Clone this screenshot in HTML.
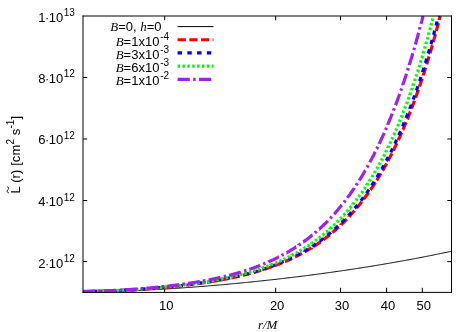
<!DOCTYPE html>
<html><head><meta charset="utf-8"><style>
html,body{margin:0;padding:0;background:#fff}
svg{display:block;will-change:transform}
text{font-family:"Liberation Sans",sans-serif;font-size:13px;fill:#000}
.it{font-family:"Liberation Serif",serif;font-style:italic}
</style></head><body>
<svg width="474" height="332" viewBox="0 0 474 332">
<rect width="474" height="332" fill="#fff"/>
<g stroke="#000" stroke-width="1" fill="none"><path d="M164.67 292.40V287.80M164.67 16.00V20.20"/><path d="M275.63 292.40V287.80M275.63 16.00V20.20"/><path d="M340.54 292.40V287.80M340.54 16.00V20.20"/><path d="M386.59 292.40V287.80M386.59 16.00V20.20"/><path d="M422.31 292.40V287.80M422.31 16.00V20.20"/><path d="M83.00 261.60H87.20M451.50 261.60H447.30"/><path d="M83.00 200.50H87.20M451.50 200.50H447.30"/><path d="M83.00 139.00H87.20M451.50 139.00H447.30"/><path d="M83.00 77.50H87.20M451.50 77.50H447.30"/></g>
<clipPath id="c"><rect x="83" y="15.5" width="368.5" height="277.3"/></clipPath>
<g clip-path="url(#c)">
<path d="M82.90 291.90 L83.82 291.90 L84.75 291.90 L85.67 291.90 L86.60 291.89 L87.52 291.89 L88.44 291.88 L89.37 291.88 L90.29 291.87 L91.21 291.86 L92.14 291.85 L93.06 291.84 L93.99 291.83 L94.91 291.82 L95.83 291.81 L96.76 291.79 L97.68 291.78 L98.60 291.76 L99.53 291.75 L100.45 291.73 L101.38 291.71 L102.30 291.69 L103.22 291.68 L104.15 291.66 L105.07 291.63 L106.00 291.61 L106.92 291.59 L107.84 291.57 L108.77 291.55 L109.69 291.52 L110.61 291.50 L111.54 291.47 L112.46 291.44 L113.39 291.42 L114.31 291.39 L115.23 291.36 L116.16 291.33 L117.08 291.30 L118.00 291.27 L118.93 291.24 L119.85 291.21 L120.78 291.18 L121.70 291.15 L122.62 291.11 L123.55 291.08 L124.47 291.05 L125.40 291.01 L126.32 290.98 L127.24 290.94 L128.17 290.90 L129.09 290.87 L130.01 290.83 L130.94 290.79 L131.86 290.75 L132.79 290.71 L133.71 290.67 L134.63 290.63 L135.56 290.59 L136.48 290.55 L137.40 290.51 L138.33 290.46 L139.25 290.42 L140.18 290.38 L141.10 290.33 L142.02 290.29 L142.95 290.24 L143.87 290.20 L144.80 290.15 L145.72 290.10 L146.64 290.06 L147.57 290.01 L148.49 289.96 L149.41 289.91 L150.34 289.86 L151.26 289.81 L152.19 289.76 L153.11 289.71 L154.03 289.66 L154.96 289.61 L155.88 289.56 L156.80 289.50 L157.73 289.45 L158.65 289.40 L159.58 289.34 L160.50 289.29 L161.42 289.24 L162.35 289.18 L163.27 289.13 L164.20 289.07 L165.12 289.01 L166.04 288.96 L166.97 288.90 L167.89 288.84 L168.81 288.78 L169.74 288.72 L170.66 288.66 L171.59 288.60 L172.51 288.54 L173.43 288.48 L174.36 288.42 L175.28 288.36 L176.20 288.30 L177.13 288.24 L178.05 288.18 L178.98 288.11 L179.90 288.05 L180.82 287.99 L181.75 287.92 L182.67 287.86 L183.60 287.79 L184.52 287.73 L185.44 287.66 L186.37 287.59 L187.29 287.53 L188.21 287.46 L189.14 287.39 L190.06 287.33 L190.99 287.26 L191.91 287.19 L192.83 287.12 L193.76 287.05 L194.68 286.98 L195.60 286.91 L196.53 286.84 L197.45 286.77 L198.38 286.70 L199.30 286.62 L200.22 286.55 L201.15 286.48 L202.07 286.41 L203.00 286.33 L203.92 286.26 L204.84 286.18 L205.77 286.11 L206.69 286.03 L207.61 285.96 L208.54 285.88 L209.46 285.81 L210.39 285.73 L211.31 285.65 L212.23 285.58 L213.16 285.50 L214.08 285.42 L215.00 285.34 L215.93 285.26 L216.85 285.18 L217.78 285.10 L218.70 285.02 L219.62 284.94 L220.55 284.86 L221.47 284.78 L222.40 284.70 L223.32 284.62 L224.24 284.53 L225.17 284.45 L226.09 284.37 L227.01 284.28 L227.94 284.20 L228.86 284.11 L229.79 284.03 L230.71 283.94 L231.63 283.86 L232.56 283.77 L233.48 283.69 L234.40 283.60 L235.33 283.51 L236.25 283.42 L237.18 283.34 L238.10 283.25 L239.02 283.16 L239.95 283.07 L240.87 282.98 L241.80 282.89 L242.72 282.80 L243.64 282.71 L244.57 282.62 L245.49 282.53 L246.41 282.44 L247.34 282.34 L248.26 282.25 L249.19 282.16 L250.11 282.06 L251.03 281.97 L251.96 281.88 L252.88 281.78 L253.80 281.69 L254.73 281.59 L255.65 281.50 L256.58 281.40 L257.50 281.30 L258.42 281.21 L259.35 281.11 L260.27 281.01 L261.20 280.91 L262.12 280.81 L263.04 280.72 L263.97 280.62 L264.89 280.52 L265.81 280.42 L266.74 280.32 L267.66 280.22 L268.59 280.11 L269.51 280.01 L270.43 279.91 L271.36 279.81 L272.28 279.70 L273.20 279.60 L274.13 279.50 L275.05 279.39 L275.98 279.29 L276.90 279.18 L277.82 279.08 L278.75 278.97 L279.67 278.87 L280.60 278.76 L281.52 278.65 L282.44 278.55 L283.37 278.44 L284.29 278.33 L285.21 278.22 L286.14 278.11 L287.06 278.00 L287.99 277.89 L288.91 277.78 L289.83 277.67 L290.76 277.56 L291.68 277.45 L292.60 277.34 L293.53 277.23 L294.45 277.12 L295.38 277.00 L296.30 276.89 L297.22 276.78 L298.15 276.66 L299.07 276.55 L300.00 276.43 L300.92 276.32 L301.84 276.20 L302.77 276.08 L303.69 275.97 L304.61 275.85 L305.54 275.73 L306.46 275.61 L307.39 275.50 L308.31 275.38 L309.23 275.26 L310.16 275.14 L311.08 275.02 L312.00 274.90 L312.93 274.78 L313.85 274.66 L314.78 274.53 L315.70 274.41 L316.62 274.29 L317.55 274.17 L318.47 274.04 L319.40 273.92 L320.32 273.79 L321.24 273.67 L322.17 273.54 L323.09 273.42 L324.01 273.29 L324.94 273.17 L325.86 273.04 L326.79 272.91 L327.71 272.78 L328.63 272.65 L329.56 272.53 L330.48 272.40 L331.40 272.27 L332.33 272.14 L333.25 272.01 L334.18 271.88 L335.10 271.74 L336.02 271.61 L336.95 271.48 L337.87 271.35 L338.80 271.21 L339.72 271.08 L340.64 270.95 L341.57 270.81 L342.49 270.68 L343.41 270.54 L344.34 270.41 L345.26 270.27 L346.19 270.13 L347.11 270.00 L348.03 269.86 L348.96 269.72 L349.88 269.58 L350.80 269.44 L351.73 269.30 L352.65 269.16 L353.58 269.02 L354.50 268.88 L355.42 268.74 L356.35 268.60 L357.27 268.45 L358.20 268.31 L359.12 268.17 L360.04 268.02 L360.97 267.88 L361.89 267.74 L362.81 267.59 L363.74 267.44 L364.66 267.30 L365.59 267.15 L366.51 267.00 L367.43 266.86 L368.36 266.71 L369.28 266.56 L370.20 266.41 L371.13 266.26 L372.05 266.11 L372.98 265.96 L373.90 265.81 L374.82 265.66 L375.75 265.51 L376.67 265.35 L377.60 265.20 L378.52 265.05 L379.44 264.89 L380.37 264.74 L381.29 264.58 L382.21 264.43 L383.14 264.27 L384.06 264.12 L384.99 263.96 L385.91 263.80 L386.83 263.64 L387.76 263.49 L388.68 263.33 L389.60 263.17 L390.53 263.01 L391.45 262.85 L392.38 262.69 L393.30 262.52 L394.22 262.36 L395.15 262.20 L396.07 262.04 L397.00 261.87 L397.92 261.71 L398.84 261.54 L399.77 261.38 L400.69 261.21 L401.61 261.05 L402.54 260.88 L403.46 260.71 L404.39 260.55 L405.31 260.38 L406.23 260.21 L407.16 260.04 L408.08 259.87 L409.00 259.70 L409.93 259.53 L410.85 259.36 L411.78 259.18 L412.70 259.01 L413.62 258.84 L414.55 258.66 L415.47 258.49 L416.40 258.31 L417.32 258.14 L418.24 257.96 L419.17 257.79 L420.09 257.61 L421.01 257.43 L421.94 257.25 L422.86 257.08 L423.79 256.90 L424.71 256.72 L425.63 256.54 L426.56 256.36 L427.48 256.17 L428.40 255.99 L429.33 255.81 L430.25 255.63 L431.18 255.44 L432.10 255.26 L433.02 255.07 L433.95 254.89 L434.87 254.70 L435.80 254.51 L436.72 254.33 L437.64 254.14 L438.57 253.95 L439.49 253.76 L440.41 253.57 L441.34 253.38 L442.26 253.19 L443.19 253.00 L444.11 252.81 L445.03 252.62 L445.96 252.42 L446.88 252.23 L447.80 252.04 L448.73 251.84 L449.65 251.65 L450.58 251.45 L451.50 251.25" stroke="#000" stroke-width="1" fill="none"/>
<path d="M82.9 291.6L83.0 291.6L83.8 291.6L84.5 291.5L85.2 291.5L86.0 291.5L86.7 291.5L87.4 291.5L88.2 291.5L88.9 291.5L89.7 291.5L90.4 291.5L91.0 291.5M94.4 291.4L94.5 291.4L95.2 291.4L95.9 291.4L96.7 291.3L97.4 291.3L98.1 291.3L98.9 291.3L99.6 291.3L100.4 291.3L101.1 291.2L101.8 291.2L102.6 291.2L102.7 291.2M106.1 291.1L106.1 291.1L106.9 291.0L107.6 291.0L108.3 291.0L109.1 291.0L109.8 290.9L110.6 290.9L111.3 290.9L112.0 290.9L112.8 290.8L113.5 290.8L114.2 290.8L114.4 290.8M117.8 290.6L117.9 290.6L118.7 290.6L119.4 290.5L120.1 290.5L120.9 290.5L121.6 290.4L122.4 290.4L123.1 290.4L123.8 290.3L124.6 290.3L125.3 290.2L126.0 290.2L126.1 290.2M129.4 290.0L129.5 290.0L130.2 290.0L131.0 289.9L131.7 289.9L132.4 289.8L133.2 289.8L133.9 289.7L134.6 289.7L135.4 289.7L136.1 289.6L136.9 289.6L137.5 289.5M140.8 289.3L140.9 289.3L141.6 289.2L142.4 289.2L143.1 289.1L143.9 289.1L144.6 289.0L145.3 289.0L146.1 288.9L146.8 288.9L147.5 288.8L148.3 288.8L148.9 288.7M152.2 288.5L152.2 288.5L153.0 288.4L153.7 288.3L154.4 288.3L155.2 288.2L155.9 288.2L156.6 288.1L157.4 288.0L158.1 288.0L158.9 287.9L159.6 287.8L160.3 287.8M163.6 287.5L163.7 287.5L164.4 287.4L165.1 287.3L165.9 287.3L166.6 287.2L167.3 287.1L168.1 287.1L168.8 287.0L169.5 286.9L170.3 286.8L171.0 286.8L171.6 286.7M174.9 286.4L175.0 286.4L175.7 286.3L176.4 286.2L177.2 286.1L177.9 286.0L178.6 286.0L179.4 285.9L180.1 285.8L180.9 285.7L181.6 285.6L182.3 285.5L183.0 285.5M186.3 285.1L186.4 285.1L187.1 285.0L187.9 284.9L188.6 284.8L189.3 284.7L190.1 284.6L190.8 284.5L191.6 284.4L192.3 284.3L193.0 284.2L193.8 284.1L194.3 284.1M197.6 283.6L197.7 283.6L198.4 283.5L199.2 283.4L199.9 283.3L200.6 283.2L201.4 283.1L202.1 283.0L202.9 282.9L203.6 282.8L204.3 282.6L205.1 282.5L205.6 282.5M208.9 282.0L208.9 282.0L209.6 281.8L210.4 281.7L211.1 281.6L211.8 281.5L212.6 281.4L213.3 281.2L214.0 281.1L214.8 281.0L215.5 280.9L216.3 280.7L216.9 280.6M220.2 280.0L220.3 280.0L221.0 279.9L221.8 279.7L222.5 279.6L223.3 279.5L224.0 279.3L224.7 279.2L225.5 279.0L226.2 278.9L226.9 278.8L227.7 278.6L228.3 278.5M231.5 277.8L231.6 277.8L232.4 277.7L233.1 277.5L233.8 277.3L234.6 277.2L235.3 277.0L236.0 276.9L236.8 276.7L237.5 276.5L238.3 276.4L239.0 276.2L239.5 276.1M242.8 275.3L242.8 275.3L243.5 275.1L244.3 274.9L245.0 274.8L245.8 274.6L246.5 274.4L247.2 274.2L248.0 274.0L248.7 273.8L249.4 273.6L250.2 273.4L250.6 273.3M253.7 272.5L253.7 272.5L254.5 272.2L255.2 272.0L256.0 271.8L256.7 271.6L257.4 271.4L258.2 271.2L258.9 271.0L259.6 270.7L260.4 270.5L261.1 270.3L261.2 270.3M264.3 269.3L264.3 269.3L265.0 269.0L265.8 268.8L266.5 268.6L267.3 268.3L268.0 268.1L268.7 267.8L269.5 267.6L270.2 267.3L270.9 267.0L271.7 266.8L271.7 266.8M274.8 265.7L274.9 265.6L275.6 265.3L276.4 265.1L277.1 264.8L277.8 264.5L278.6 264.2L279.3 263.9L280.0 263.6L280.8 263.3L281.5 263.0L282.2 262.8M285.1 261.5L285.2 261.5L285.9 261.2L286.7 260.8L287.4 260.5L288.2 260.2L288.9 259.9L289.6 259.5L290.4 259.2L291.1 258.8L291.8 258.5L292.1 258.4M295.0 257.0L295.0 257.0L295.8 256.6L296.5 256.2L297.3 255.8L298.0 255.5L298.7 255.1L299.5 254.7L300.2 254.3L300.9 253.9L301.7 253.5L301.9 253.4M304.7 251.9L304.7 251.8L305.5 251.4L306.2 251.0L307.0 250.5L307.7 250.1L308.4 249.7L309.2 249.2L309.9 248.8L310.6 248.3L311.4 247.9L311.4 247.8M314.1 246.1L314.2 246.1L314.9 245.6L315.7 245.1L316.4 244.6L317.2 244.1L317.9 243.6L318.6 243.1L319.4 242.6L320.1 242.1L320.7 241.7M323.4 239.7L323.4 239.7L324.2 239.1L324.9 238.6L325.6 238.0L326.4 237.4L327.1 236.9L327.9 236.3L328.6 235.7L329.3 235.1L329.8 234.7M332.4 232.6L332.4 232.6L333.1 231.9L333.9 231.3L334.6 230.7L335.4 230.0L336.1 229.4L336.8 228.7L337.6 228.0L338.3 227.4L338.5 227.1M341.0 224.9L341.0 224.8L341.7 224.1L342.5 223.4L343.2 222.7L344.0 222.0L344.7 221.2L345.4 220.5L346.2 219.7L346.8 219.1M349.1 216.7L349.1 216.6L349.9 215.8L350.6 215.0L351.3 214.2L352.1 213.4L352.8 212.6L353.5 211.7L354.3 210.9L354.5 210.6M356.7 208.1L356.7 208.0L357.5 207.1L358.2 206.2L359.0 205.3L359.7 204.4L360.4 203.5L361.2 202.5L361.8 201.8M363.8 199.1L363.9 199.0L364.6 198.0L365.3 197.1L366.1 196.1L366.8 195.0L367.6 194.0L368.3 193.0L368.6 192.6M370.4 189.9L370.5 189.8L371.2 188.7L372.0 187.6L372.7 186.5L373.5 185.4L374.2 184.3L374.9 183.2L374.9 183.1M376.7 180.4L376.8 180.3L377.5 179.1L378.2 177.9L379.0 176.7L379.7 175.5L380.5 174.2L380.9 173.4M382.6 170.6L382.7 170.5L383.4 169.2L384.1 167.9L384.9 166.6L385.6 165.2L386.4 163.9L386.6 163.5M388.1 160.6L388.2 160.5L388.9 159.1L389.7 157.7L390.4 156.3L391.2 154.8L391.9 153.4M393.4 150.5L393.4 150.5L394.1 149.0L394.8 147.4L395.6 145.9L396.3 144.4L396.9 143.2M398.3 140.2L398.4 139.9L399.1 138.3L399.9 136.7L400.6 135.0L401.4 133.4L401.6 132.8M402.9 129.8L403.0 129.7L403.7 128.0L404.4 126.3L405.2 124.5L405.9 122.7L406.1 122.3M407.3 119.2L407.4 119.1L408.1 117.3L408.9 115.5L409.6 113.6L410.3 111.7L410.4 111.6M411.6 108.4L411.7 108.2L412.4 106.3L413.2 104.3L413.9 102.3L414.5 100.7M415.6 97.5L415.7 97.3L416.5 95.2L417.2 93.1L417.9 91.0L418.4 89.7M419.5 86.5L419.5 86.4L420.3 84.2L421.0 82.0L421.8 79.8L422.1 78.7M423.2 75.5L423.2 75.3L424.0 73.0L424.7 70.7L425.4 68.3L425.7 67.6M426.7 64.4L426.8 64.0L427.5 61.6L428.3 59.1L429.0 56.7L429.1 56.5M430.0 53.2L430.1 52.9L430.9 50.4L431.6 47.8L432.3 45.3M433.2 42.1L433.3 41.8L434.0 39.1L434.8 36.5L435.4 34.1M436.3 30.9L436.4 30.6L437.1 27.8L437.9 25.0L438.4 23.1M439.2 19.9L439.2 19.8L439.9 16.9L440.2 16.0" stroke="#ff0000" stroke-width="3.2" fill="none"/>
<path d="M82.9 291.5L83.0 291.5L83.8 291.5L84.5 291.5L85.2 291.5L86.0 291.5L86.7 291.5L87.1 291.5M92.4 291.4L92.5 291.4L93.2 291.4L94.0 291.4L94.7 291.4L95.4 291.4L96.2 291.3L96.8 291.3M102.2 291.2L102.2 291.2L102.9 291.2L103.7 291.1L104.4 291.1L105.1 291.1L105.9 291.1L106.6 291.0M112.0 290.8L112.0 290.8L112.8 290.8L113.5 290.8L114.2 290.7L115.0 290.7L115.7 290.7L116.4 290.6M121.7 290.4L121.7 290.4L122.5 290.3L123.2 290.3L124.0 290.3L124.7 290.2L125.4 290.2L126.1 290.2M131.3 289.9L131.3 289.9L132.1 289.8L132.8 289.8L133.5 289.7L134.3 289.7L135.0 289.6L135.6 289.6M140.8 289.2L140.9 289.2L141.6 289.2L142.4 289.1L143.1 289.1L143.9 289.0L144.6 289.0L145.1 288.9M150.3 288.5L150.4 288.5L151.1 288.5L151.9 288.4L152.6 288.4L153.3 288.3L154.1 288.2L154.6 288.2M159.8 287.8L159.8 287.7L160.6 287.7L161.3 287.6L162.1 287.5L162.8 287.5L163.5 287.4L164.1 287.4M169.2 286.9L169.3 286.8L170.0 286.8L170.8 286.7L171.5 286.6L172.3 286.5L173.0 286.5L173.5 286.4M178.7 285.9L178.8 285.8L179.5 285.8L180.2 285.7L181.0 285.6L181.7 285.5L182.5 285.4L183.0 285.4M188.1 284.7L188.2 284.7L189.0 284.6L189.7 284.5L190.4 284.4L191.2 284.3L191.9 284.2L192.4 284.2M197.6 283.5L197.7 283.5L198.4 283.4L199.2 283.3L199.9 283.1L200.6 283.0L201.4 282.9L201.8 282.9M207.0 282.1L207.0 282.1L207.8 282.0L208.5 281.8L209.2 281.7L210.0 281.6L210.7 281.5L211.2 281.4M216.4 280.5L216.5 280.5L217.2 280.4L218.0 280.2L218.7 280.1L219.5 280.0L220.2 279.8L220.7 279.7M225.8 278.7L226.0 278.7L226.7 278.6L227.4 278.4L228.2 278.3L228.9 278.1L229.7 278.0L230.1 277.9M235.2 276.8L235.3 276.7L236.0 276.6L236.8 276.4L237.5 276.2L238.3 276.1L239.0 275.9L239.5 275.8M244.6 274.5L244.6 274.5L245.4 274.3L246.1 274.1L246.9 273.9L247.6 273.7L248.3 273.6L248.7 273.4M253.6 272.1L253.6 272.1L254.4 271.9L255.1 271.7L255.8 271.5L256.6 271.2L257.3 271.0L257.6 270.9M262.4 269.4L262.5 269.4L263.2 269.2L263.9 268.9L264.7 268.7L265.4 268.4L266.2 268.2L266.4 268.1M271.2 266.4L271.2 266.4L271.9 266.2L272.7 265.9L273.4 265.6L274.1 265.3L274.9 265.1L275.1 265.0M279.9 263.1L279.9 263.1L280.7 262.8L281.4 262.5L282.1 262.1L282.9 261.8L283.6 261.5L283.7 261.5M288.3 259.4L288.3 259.4L289.0 259.1L289.8 258.7L290.5 258.4L291.2 258.0L292.0 257.7L292.0 257.7M296.4 255.5L296.5 255.4L297.3 255.0L298.0 254.6L298.7 254.2L299.5 253.8L300.0 253.5M304.4 251.1L304.5 251.0L305.2 250.6L306.0 250.2L306.7 249.7L307.5 249.3L308.0 248.9M312.3 246.3L312.4 246.2L313.1 245.7L313.8 245.2L314.6 244.7L315.3 244.2L315.8 243.9M319.9 241.0L320.0 241.0L320.7 240.4L321.5 239.9L322.2 239.3L322.9 238.8L323.4 238.4M327.5 235.2L327.6 235.1L328.3 234.5L329.1 233.9L329.8 233.3L330.6 232.7L330.9 232.4M334.9 229.0L334.9 229.0L335.6 228.3L336.3 227.6L337.1 226.9L337.8 226.3L338.1 226.0M341.8 222.4L341.9 222.4L342.6 221.6L343.3 220.9L344.1 220.1L344.8 219.4L344.9 219.3M348.5 215.5L348.6 215.3L349.4 214.5L350.1 213.7L350.8 212.9L351.4 212.2M354.8 208.3L354.9 208.2L355.6 207.3L356.4 206.4L357.1 205.5L357.5 204.9M360.8 200.8L360.8 200.8L361.5 199.9L362.3 198.9L363.0 197.9L363.4 197.4M366.4 193.2L366.4 193.2L367.2 192.1L367.9 191.1L368.7 190.0L368.9 189.7M371.8 185.4L371.9 185.2L372.6 184.1L373.3 183.0L374.1 181.8L374.1 181.7M376.9 177.3L376.9 177.3L377.6 176.1L378.4 174.9L379.1 173.6M381.7 169.1L381.8 169.0L382.5 167.7L383.3 166.4L383.8 165.4M386.3 160.8L386.4 160.7L387.1 159.3L387.8 157.9L388.3 157.0M390.7 152.4L390.8 152.2L391.5 150.7L392.3 149.2L392.6 148.5M394.9 143.8L395.0 143.6L395.7 142.0L396.4 140.4L396.7 139.9M398.8 135.2L398.9 135.0L399.6 133.4L400.4 131.7L400.6 131.3M402.6 126.5L402.7 126.3L403.4 124.5L404.2 122.8L404.3 122.5M406.3 117.7L406.3 117.6L407.0 115.8L407.7 113.9L407.9 113.6M409.8 108.7L409.8 108.6L410.6 106.6L411.3 104.7L411.3 104.6M413.2 99.6L413.3 99.3L414.0 97.3L414.7 95.5M416.4 90.4L416.5 90.4L417.2 88.2L417.9 86.3M419.6 81.3L419.7 81.0L420.4 78.7L420.9 77.1M422.6 72.0L422.6 71.9L423.4 69.6L423.9 67.8M425.5 62.8L425.6 62.4L426.3 60.0L426.7 58.6M428.2 53.5L428.3 53.4L429.0 50.9L429.5 49.3M430.9 44.2L431.0 44.0L431.7 41.4L432.1 40.0M433.5 34.9L433.6 34.8L434.3 32.0L434.7 30.7M436.0 25.6L436.0 25.6L436.8 22.8L437.1 21.5M438.4 16.4L438.5 16.1L438.5 16.0" stroke="#0000ff" stroke-width="3.2" fill="none"/>
<path d="M82.9 291.5L83.0 291.5L83.8 291.5L84.5 291.5L85.1 291.5M87.5 291.4L87.6 291.4L88.3 291.4L89.0 291.4L89.8 291.4L90.0 291.4M92.4 291.4L92.5 291.4L93.2 291.3L94.0 291.3L94.7 291.3L94.9 291.3M97.3 291.2L97.4 291.2L98.1 291.2L98.9 291.2L99.6 291.2L99.8 291.2M102.2 291.1L102.2 291.1L102.9 291.1L103.7 291.1L104.4 291.0L104.7 291.0M107.1 290.9L107.1 290.9L107.9 290.9L108.6 290.9L109.3 290.8L109.5 290.8M111.9 290.7L112.0 290.7L112.8 290.7L113.5 290.7L114.2 290.6L114.4 290.6M116.8 290.5L116.9 290.5L117.7 290.5L118.4 290.4L119.2 290.4L119.3 290.4M121.7 290.3L121.7 290.3L122.5 290.2L123.2 290.2L124.0 290.2L124.2 290.1M126.6 290.0L126.7 290.0L127.4 290.0L128.1 289.9L128.9 289.9L129.0 289.9M131.3 289.7L131.3 289.7L132.1 289.7L132.8 289.6L133.5 289.6L133.7 289.6M136.1 289.4L136.1 289.4L136.9 289.4L137.6 289.3L138.3 289.3L138.5 289.3M140.8 289.1L140.9 289.1L141.6 289.0L142.4 289.0L143.1 288.9L143.2 288.9M145.6 288.7L145.6 288.7L146.3 288.7L147.1 288.6L147.8 288.6L147.9 288.5M150.3 288.4L150.4 288.4L151.1 288.3L151.9 288.2L152.6 288.2L152.7 288.2M155.0 288.0L155.0 288.0L155.8 287.9L156.5 287.8L157.3 287.8L157.4 287.7M159.8 287.5L159.8 287.5L160.6 287.5L161.3 287.4L162.1 287.3L162.2 287.3M164.5 287.1L164.5 287.1L165.2 287.0L166.0 286.9L166.7 286.8L166.9 286.8M169.2 286.6L169.3 286.6L170.0 286.5L170.8 286.4L171.5 286.3L171.6 286.3M174.0 286.1L174.0 286.1L174.7 286.0L175.4 285.9L176.2 285.8L176.3 285.8M178.7 285.5L178.8 285.5L179.5 285.4L180.2 285.3L181.0 285.3L181.1 285.2M183.4 285.0L183.4 285.0L184.2 284.9L184.9 284.8L185.7 284.7L185.8 284.7M188.1 284.4L188.2 284.3L189.0 284.2L189.7 284.1L190.4 284.0L190.5 284.0M192.8 283.7L192.9 283.7L193.6 283.6L194.4 283.5L195.1 283.4L195.2 283.4M197.5 283.0L197.6 283.0L198.3 282.9L199.0 282.8L199.8 282.7L199.9 282.7M202.2 282.3L202.2 282.3L203.0 282.2L203.7 282.1L204.5 282.0L204.6 281.9M206.9 281.5L207.0 281.5L207.8 281.4L208.5 281.3L209.2 281.2L209.3 281.1M211.6 280.7L211.7 280.7L212.4 280.6L213.2 280.5L213.9 280.3L214.0 280.3M216.3 279.9L216.4 279.9L217.1 279.7L217.9 279.6L218.6 279.4L218.7 279.4M221.1 279.0L221.2 278.9L221.9 278.8L222.6 278.6L223.4 278.5L223.4 278.5M225.8 278.0L225.8 278.0L226.6 277.8L227.3 277.7L228.1 277.5L228.1 277.5M230.4 277.0L230.5 276.9L231.2 276.8L232.0 276.6L232.7 276.4L232.8 276.4M235.1 275.9L235.2 275.9L235.9 275.7L236.7 275.5L237.4 275.3L237.5 275.3M239.8 274.7L239.9 274.7L240.6 274.5L241.3 274.3L242.1 274.1L242.1 274.1M244.4 273.5L244.5 273.5L245.3 273.3L246.0 273.1L246.7 272.9L246.8 272.9M249.0 272.2L249.1 272.2L249.8 272.0L250.5 271.8L251.2 271.6M253.4 270.9L253.5 270.9L254.2 270.7L255.0 270.4L255.6 270.2M257.8 269.5L257.8 269.5L258.5 269.3L259.3 269.0L260.0 268.8M262.2 268.1L262.2 268.0L263.0 267.8L263.7 267.5L264.4 267.3M266.5 266.5L266.5 266.5L267.3 266.2L268.0 266.0L268.7 265.7M270.9 264.9L270.9 264.8L271.7 264.5L272.4 264.2L273.0 264.0M275.2 263.1L275.3 263.1L276.0 262.8L276.7 262.5L277.3 262.2M279.5 261.3L279.6 261.3L280.3 260.9L281.0 260.6L281.6 260.3M283.7 259.4L283.7 259.4L284.5 259.0L285.2 258.7L285.7 258.4M287.8 257.4L287.8 257.4L288.5 257.0L289.3 256.7L289.8 256.4M291.8 255.4L291.8 255.3L292.6 255.0L293.3 254.6L293.8 254.3M295.8 253.2L295.8 253.2L296.5 252.8L297.3 252.4L297.8 252.1M299.7 251.0L299.8 250.9L300.6 250.5L301.3 250.0L301.7 249.8M303.7 248.6L303.8 248.5L304.5 248.1L305.2 247.6L305.6 247.4M307.5 246.1L307.6 246.1L308.3 245.6L309.1 245.1L309.5 244.8M311.4 243.6L311.4 243.5L312.1 243.0L312.9 242.5L313.3 242.2M315.1 240.9L315.2 240.8L315.9 240.3L316.7 239.7L317.0 239.5M318.8 238.1L318.9 238.1L319.6 237.5L320.4 236.9L320.8 236.6M322.6 235.1L322.7 235.1L323.4 234.5L324.2 233.8L324.5 233.6M326.3 232.0L326.4 232.0L327.1 231.3L327.9 230.7L328.1 230.5M329.9 228.9L329.9 228.8L330.7 228.2L331.4 227.5L331.7 227.2M333.4 225.6L333.5 225.5L334.2 224.8L335.0 224.1L335.2 223.9M336.9 222.3L337.0 222.2L337.7 221.5L338.4 220.7L338.6 220.5M340.2 218.8L340.3 218.8L341.0 218.0L341.7 217.3L341.9 217.1M343.5 215.3L343.6 215.3L344.3 214.5L345.1 213.6L345.2 213.5M346.7 211.8L346.8 211.7L347.5 210.8L348.3 210.0L348.3 209.9M349.8 208.1L349.9 208.1L350.6 207.2L351.3 206.3L351.4 206.2M352.9 204.4L352.9 204.3L353.7 203.4L354.3 202.5M355.8 200.7L355.9 200.6L356.6 199.6L357.2 198.8M358.6 196.9L358.7 196.8L359.4 195.8L360.1 194.9M361.4 193.0L361.5 192.9L362.3 191.8L362.8 191.0M364.1 189.1L364.2 189.0L365.0 187.9L365.5 187.1M366.8 185.2L366.8 185.1L367.6 184.0L368.1 183.1M369.4 181.2L369.4 181.1L370.1 179.9L370.6 179.1M371.9 177.1L372.0 176.9L372.7 175.7L373.1 175.1M374.3 173.0L374.4 172.8L375.2 171.6L375.5 171.0M376.7 168.9L376.8 168.8L377.5 167.5L377.9 166.8M379.0 164.8L379.1 164.6L379.8 163.3L380.2 162.7M381.3 160.6L381.3 160.6L382.1 159.2L382.4 158.5M383.5 156.4L383.5 156.4L384.3 154.9L384.6 154.3M385.7 152.2L385.7 152.0L386.5 150.5L386.7 150.0M387.8 147.9L387.8 147.8L388.6 146.3L388.8 145.7M389.8 143.6L389.9 143.4L390.7 141.9L390.9 141.4M391.8 139.3L391.9 139.2L392.6 137.6L392.8 137.1M393.8 135.0L393.9 134.9L394.6 133.2L394.8 132.8M395.7 130.6L395.8 130.4L396.6 128.7L396.7 128.4M397.6 126.3L397.7 126.1L398.4 124.4L398.5 124.0M399.4 121.9L399.5 121.7L400.2 119.9L400.3 119.7M401.2 117.5L401.4 117.2L402.1 115.3L402.1 115.2M403.0 113.1L403.1 112.8L403.8 110.9L403.9 110.8M404.7 108.6L404.8 108.4L405.5 106.5L405.6 106.3M406.4 104.0L406.5 103.8L407.3 101.9L407.3 101.7M408.1 99.5L408.2 99.2L409.0 97.2M409.8 94.9L409.8 94.7L410.6 92.7L410.6 92.6M411.4 90.3L411.4 90.2L412.2 88.1L412.2 88.0M413.0 85.7L413.0 85.6L413.8 83.4M414.5 81.1L414.6 80.8L415.3 78.8M416.0 76.5L416.1 76.3L416.8 74.2M417.5 71.9L417.6 71.8L418.3 69.6M419.0 67.3L419.1 67.1L419.7 64.9M420.4 62.7L420.5 62.3L421.1 60.3M421.8 58.0L421.9 57.9L422.5 55.7M423.2 53.4L423.2 53.3L423.9 51.0M424.6 48.7L424.6 48.7L425.2 46.4M425.9 44.1L425.9 44.0L426.6 41.7M427.2 39.4L427.3 39.1L427.9 37.1M428.5 34.8L428.5 34.7L429.1 32.4M429.8 30.1L429.9 29.7L430.4 27.7M431.0 25.4L431.1 25.0L431.6 23.1M432.2 20.8L432.2 20.8L432.8 18.5M433.4 16.2L433.4 16.0L433.4 16.0" stroke="#00ff00" stroke-width="3.2" fill="none"/>
<path d="M82.9 291.4L83.0 291.4L83.8 291.4L84.5 291.3L85.2 291.3L86.0 291.3L86.7 291.3L87.4 291.3L88.2 291.3L88.9 291.3L89.7 291.3L90.4 291.2L91.1 291.2L91.9 291.2L92.6 291.2L93.3 291.2L94.1 291.2L94.8 291.1L94.9 291.1M98.3 291.0L98.4 291.0L99.1 291.0L99.9 291.0L100.6 291.0L100.7 291.0M104.1 290.8L104.2 290.8L104.9 290.8L105.6 290.8L106.4 290.8L107.1 290.7L107.9 290.7L108.6 290.7L109.3 290.6L110.1 290.6L110.8 290.6L111.5 290.5L112.3 290.5L113.0 290.5L113.7 290.4L114.5 290.4L115.2 290.4L116.0 290.3L116.4 290.3M119.8 290.1L119.8 290.1L120.5 290.1L121.2 290.0L122.0 290.0L122.2 290.0M125.6 289.8L125.7 289.8L126.4 289.7L127.1 289.7L127.9 289.6L128.6 289.6L129.4 289.5L130.1 289.5L130.8 289.4L131.6 289.4L132.3 289.3L133.0 289.3L133.8 289.2L134.5 289.2L135.3 289.1L136.0 289.1L136.7 289.0L137.5 289.0L137.5 289.0M140.8 288.7L140.9 288.7L141.6 288.6L142.4 288.6L143.1 288.5L143.2 288.5M146.5 288.2L146.6 288.2L147.3 288.2L148.0 288.1L148.8 288.0L149.5 288.0L150.3 287.9L151.0 287.8L151.7 287.8L152.5 287.7L153.2 287.6L153.9 287.5L154.7 287.5L155.4 287.4L156.2 287.3L156.9 287.3L157.6 287.2L158.3 287.1M161.6 286.8L161.7 286.8L162.4 286.7L163.2 286.6L163.9 286.5L164.0 286.5M167.3 286.1L167.3 286.1L168.1 286.1L168.8 286.0L169.5 285.9L170.3 285.8L171.0 285.7L171.8 285.6L172.5 285.5L173.2 285.4L174.0 285.3L174.7 285.3L175.4 285.2L176.2 285.1L176.9 285.0L177.7 284.9L178.4 284.8L179.1 284.7M182.4 284.2L182.5 284.2L183.2 284.1L183.9 284.0L184.7 283.9L184.8 283.9M188.0 283.4L188.1 283.4L188.8 283.3L189.6 283.2L190.3 283.1L191.1 283.0L191.8 282.8L192.5 282.7L193.3 282.6L194.0 282.5L194.7 282.4L195.5 282.2L196.2 282.1L197.0 282.0L197.7 281.9L198.4 281.8L199.2 281.6L199.8 281.5M203.1 280.9L203.1 280.9L203.8 280.8L204.6 280.7L205.3 280.5L205.4 280.5M208.7 279.9L208.8 279.9L209.5 279.7L210.2 279.6L211.0 279.4L211.7 279.3L212.4 279.1L213.2 279.0L213.9 278.8L214.7 278.7L215.4 278.5L216.1 278.3L216.9 278.2L217.6 278.0L218.3 277.9L219.1 277.7L219.8 277.5L220.4 277.4M223.7 276.6L223.8 276.6L224.5 276.4L225.2 276.3L226.0 276.1L226.0 276.1M229.2 275.2L229.3 275.2L230.0 275.0L230.8 274.9L231.5 274.7L232.2 274.5L233.0 274.3L233.7 274.1L234.4 273.9L235.2 273.7L235.9 273.4L236.7 273.2L237.4 273.0L238.1 272.8L238.9 272.6L239.6 272.4L240.3 272.2L240.8 272.0M244.0 271.0L244.0 271.0L244.8 270.8L245.5 270.6L246.2 270.3L246.3 270.3M249.4 269.3L249.4 269.3L250.2 269.0L250.9 268.8L251.7 268.5L252.4 268.2L253.1 268.0L253.9 267.7L254.6 267.5L255.3 267.2L256.1 266.9L256.8 266.6L257.6 266.4L258.3 266.1L259.0 265.8L259.8 265.5L260.2 265.3M263.2 264.1L263.2 264.1L263.9 263.8L264.7 263.5L265.4 263.2M268.3 262.0L268.4 261.9L269.1 261.6L269.8 261.3L270.6 260.9L271.3 260.6L272.1 260.3L272.8 259.9L273.5 259.6L274.3 259.2L275.0 258.9L275.7 258.5L276.5 258.1L277.2 257.8L278.0 257.4L278.7 257.0L278.9 257.0M281.7 255.5L281.8 255.4L282.5 255.0L283.2 254.6L283.7 254.4M286.5 252.8L286.6 252.8L287.3 252.4L288.0 251.9L288.8 251.5L289.5 251.1L290.2 250.6L291.0 250.2L291.7 249.7L292.5 249.3L293.2 248.8L293.9 248.4L294.7 247.9L295.4 247.4L296.1 246.9L296.2 246.9M298.8 245.2L298.8 245.1L299.6 244.6L300.3 244.1L300.7 243.9M303.3 242.0L303.4 242.0L304.1 241.4L304.9 240.9L305.6 240.3L306.3 239.8L307.1 239.2L307.8 238.7L308.6 238.1L309.3 237.5L310.0 236.9L310.8 236.3L311.5 235.7L312.2 235.1L312.5 235.0M314.9 232.9L314.9 232.9L315.7 232.2L316.4 231.6L316.7 231.3M319.2 229.1L319.3 229.1L320.0 228.4L320.7 227.7L321.5 227.1L322.2 226.4L322.9 225.7L323.7 225.0L324.4 224.2L325.2 223.5L325.9 222.8L326.6 222.1L327.4 221.3L327.9 220.8M330.2 218.4L330.3 218.3L331.1 217.5L331.8 216.7L331.9 216.6M334.1 214.1L334.1 214.1L334.9 213.3L335.6 212.5L336.3 211.6L337.1 210.8L337.8 209.9L338.5 209.0L339.3 208.1L340.0 207.2L340.8 206.3L341.5 205.4L341.9 205.0M344.0 202.3L344.1 202.2L344.8 201.2L345.4 200.4M347.4 197.8L347.5 197.6L348.3 196.6L349.0 195.6L349.7 194.6L350.5 193.6L351.2 192.5L351.9 191.5L352.7 190.4L353.4 189.4L354.2 188.3L354.3 188.0M356.1 185.3L356.2 185.1L357.0 184.0L357.5 183.3M359.2 180.5L359.3 180.3L360.1 179.2L360.8 178.0L361.5 176.8L362.3 175.5L363.0 174.3L363.7 173.1L364.5 171.8L365.2 170.5L365.4 170.3M367.0 167.4L367.1 167.3L367.8 166.0L368.2 165.3M369.8 162.4L369.8 162.4L370.5 161.0L371.2 159.7L372.0 158.3L372.7 156.9L373.5 155.4L374.2 154.0L374.9 152.5L375.3 151.9M376.7 148.9L376.8 148.8L377.5 147.3L377.8 146.7M379.2 143.8L379.2 143.7L380.0 142.2L380.7 140.6L381.4 139.0L382.2 137.4L382.9 135.8L383.7 134.1L384.2 132.9M385.5 129.9L385.6 129.7L386.4 127.9L386.5 127.7M387.8 124.7L387.8 124.5L388.6 122.7L389.3 120.9L390.0 119.1L390.8 117.3L391.5 115.5L392.3 113.6M393.5 110.6L393.5 110.5L394.2 108.6L394.3 108.3M395.5 105.2L395.6 105.0L396.3 103.1L397.1 101.1L397.8 99.1L398.5 97.0L399.3 95.0L399.7 93.9M400.8 90.7L400.9 90.5L401.6 88.4M402.7 85.2L402.7 85.1L403.4 83.0L404.2 80.8L404.9 78.6L405.7 76.3L406.4 74.0L406.5 73.7M407.5 70.5L407.6 70.2L408.3 68.1M409.3 64.9L409.3 64.7L410.1 62.4L410.8 59.9L411.6 57.5L412.3 55.1L412.8 53.3M413.8 50.0L413.9 49.6L414.5 47.7M415.4 44.5L415.5 44.1L416.2 41.5L417.0 38.8L417.7 36.2L418.4 33.5L418.6 32.8M419.5 29.5L419.5 29.4L420.1 27.2M421.0 23.9L421.0 23.9L421.8 21.1L422.5 18.2L423.1 16.0" stroke="#a020f0" stroke-width="3.2" fill="none"/>
</g>
<g stroke="#000" stroke-width="1" fill="none"><path d="M83 15.5V292.9"/><path d="M82.5 16H452"/><path d="M451.5 15.5V292.9"/><path d="M82.5 292.4H452"/></g>
<g><text x="166.17" y="310.3" text-anchor="middle">10</text><text x="277.13" y="310.3" text-anchor="middle">20</text><text x="342.04" y="310.3" text-anchor="middle">30</text><text x="388.09" y="310.3" text-anchor="middle">40</text><text x="423.81" y="310.3" text-anchor="middle">50</text></g>
<g><text x="74.9" y="267.50" text-anchor="end">2<tspan dx="-0.55">·</tspan><tspan dx="-0.55">10</tspan><tspan dy="-5.4" dx="0.5" font-size="10">12</tspan></text><text x="74.9" y="205.90" text-anchor="end">4<tspan dx="-0.55">·</tspan><tspan dx="-0.55">10</tspan><tspan dy="-5.4" dx="0.5" font-size="10">12</tspan></text><text x="74.9" y="144.30" text-anchor="end">6<tspan dx="-0.55">·</tspan><tspan dx="-0.55">10</tspan><tspan dy="-5.4" dx="0.5" font-size="10">12</tspan></text><text x="74.9" y="82.80" text-anchor="end">8<tspan dx="-0.55">·</tspan><tspan dx="-0.55">10</tspan><tspan dy="-5.4" dx="0.5" font-size="10">12</tspan></text><text x="74.9" y="21.80" text-anchor="end">1<tspan dx="-0.55">·</tspan><tspan dx="-0.55">10</tspan><tspan dy="-5.4" dx="0.5" font-size="10">13</tspan></text></g>
<g><text x="161.5" y="30.50" text-anchor="end"><tspan class="it">B</tspan>=0, <tspan class="it">h</tspan>=0</text><path d="M177.6 26.60H213.5" stroke="#000" stroke-width="1"/><text x="169.2" y="45.90" text-anchor="end"><tspan class="it">B</tspan>=1x10<tspan dy="-5.8" dx="0.9" font-size="10">-4</tspan></text><path d="M177.6 39.77H213.5" stroke="#ff0000" stroke-width="3.2" stroke-dasharray="8.30 3.40"/><text x="169.2" y="58.93" text-anchor="end"><tspan class="it">B</tspan>=3x10<tspan dy="-5.8" dx="0.9" font-size="10">-3</tspan></text><path d="M177.6 52.94H213.5" stroke="#0000ff" stroke-width="3.2" stroke-dasharray="4.40 5.35"/><text x="169.2" y="71.96" text-anchor="end"><tspan class="it">B</tspan>=6x10<tspan dy="-5.8" dx="0.9" font-size="10">-3</tspan></text><path d="M177.6 66.11H213.5" stroke="#00ff00" stroke-width="3.2" stroke-dasharray="2.45 2.42"/><text x="169.2" y="84.99" text-anchor="end"><tspan class="it">B</tspan>=1x10<tspan dy="-5.8" dx="0.9" font-size="10">-2</tspan></text><path d="M177.6 79.28H213.5" stroke="#a020f0" stroke-width="3.2" stroke-dasharray="12.20 3.40 2.45 3.40"/></g>
<text x="267.7" y="329.3" class="it" text-anchor="middle" font-size="13">r/M</text>
<text transform="translate(19.7,154.6) rotate(-90)" text-anchor="middle" letter-spacing="0.1">L (r) [cm<tspan dy="-5.6" font-size="10">2</tspan><tspan dy="5.6"> s</tspan><tspan dy="-5.6" font-size="10">-1</tspan><tspan dy="5.6">]</tspan></text>
<path d="M8.9 192.9 C7.6 192.7 6.8 191.7 7.3 190.7 C7.8 189.7 9.0 189.0 8.6 187.9 C8.3 187.1 7.6 186.8 7.1 186.7" fill="none" stroke="#000" stroke-width="0.9"/>
</svg>
</body></html>
